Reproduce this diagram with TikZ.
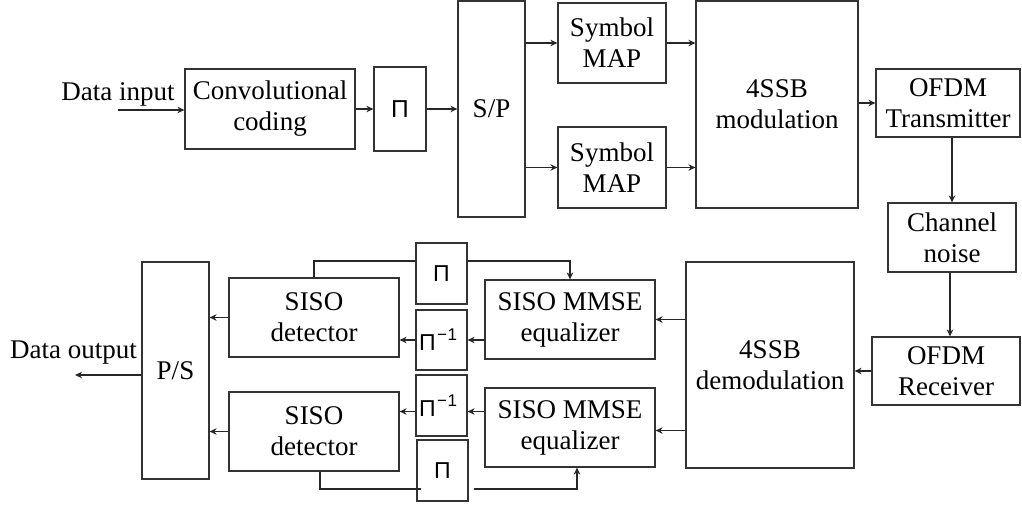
\documentclass[tikz,border=0pt]{standalone}
\usepackage{fontspec}
\setmainfont{Liberation Serif}
\newfontfamily\pifont{Liberation Sans}
\usetikzlibrary{arrows.meta}
\newcommand{\perm}{{\pifont Π}}
\newcommand{\invperm}{{\pifont Π\kern1.5pt\raisebox{10pt}{\fontsize{17}{17}\selectfont −\kern0.5pt1}}}
\begin{document}
\begin{tikzpicture}[x=1pt,y=-1pt,
  blk/.style={draw=black!80, line width=1.2pt, inner sep=0pt, align=center,
              font=\fontsize{27}{31}\selectfont},
  pbox/.style={draw=black!80, line width=1.2pt, inner sep=0pt,
               minimum width=51pt, minimum height=61pt, font=\fontsize{23}{23}\selectfont},
  ibox/.style={pbox, text width=45pt, align=left},
  lbl/.style={font=\fontsize{27}{31}\selectfont, inner sep=0pt},
  arr/.style={draw=black!85, line width=1.2pt, -{Stealth[length=7pt,width=6.5pt]}},
  ln/.style={draw=black!85, line width=1.2pt}]
\useasboundingbox (0,0) rectangle (1022,506);

% transmitter chain
\node[blk, minimum width=170pt, minimum height=80pt] (conv) at (270,109) {Convolutional\\coding};
\node[pbox, minimum width=52pt, minimum height=84pt, font=\fontsize{24.5}{24.5}\selectfont] (pi1) at (400,109) {\perm};
\node[blk, minimum width=67pt, minimum height=216pt] (sp) at (491.5,109) {S/P};
\node[blk, minimum width=108pt, minimum height=80pt] (map1) at (612,43) {Symbol\\MAP};
\node[blk, minimum width=108pt, minimum height=81pt] (map2) at (612,167.5) {Symbol\\MAP};
\node[blk, minimum width=162pt, minimum height=207pt] (mod) at (777,104.5) {4SSB\\modulation};
\node[blk, minimum width=144pt, minimum height=68pt] (tx) at (948,103) {OFDM\\Transmitter};
\node[blk, minimum width=128pt, minimum height=69pt] (noise) at (952,237.5) {Channel\\noise};

% receiver chain
\node[blk, minimum width=148pt, minimum height=68pt] (rx) at (946,371) {OFDM\\Receiver};
\node[blk, minimum width=168pt, minimum height=206pt] (demod) at (770,365) {4SSB\\demodulation};
\node[blk, minimum width=170pt, minimum height=79pt] (eq1) at (570,319.5) {SISO MMSE\\equalizer};
\node[blk, minimum width=170pt, minimum height=79pt] (eq2) at (570,427.5) {SISO MMSE\\equalizer};
\node[pbox] (pia) at (441.5,273.5) {\perm};
\node[ibox, minimum height=60pt] (pib) at (441.5,340) {\invperm};
\node[ibox] (pic) at (441.5,405.5) {\invperm};
\node[pbox] (pid) at (442.5,470.5) {\perm};
\node[blk, minimum width=170pt, minimum height=79pt] (det1) at (314,317.5) {SISO\\detector};
\node[blk, minimum width=170pt, minimum height=79pt] (det2) at (314,431.5) {SISO\\detector};
\node[blk, minimum width=67pt, minimum height=217pt] (ps) at (175.5,370.5) {P/S};

% outer labels
\node[lbl, anchor=base] (inlbl) at (118,100) {Data input};
\node[lbl, anchor=base] (outlbl) at (73.5,358) {Data output};
\coordinate (din) at (118,110);
\coordinate (dout) at (75,375);
\coordinate (fbt) at (441.5,261);
\coordinate (fbb) at (442,489);

% forward connectors
\draw[arr] (din) -- (conv.west |- din);
\draw[arr] (conv.east) -- (pi1.west);
\draw[arr] (pi1.east) -- (sp.west |- pi1.east);
\draw[arr] (sp.east |- map1.west) -- (map1.west);
\draw[arr] (sp.east |- map2.west) -- (map2.west);
\draw[arr] (map1.east) -- (mod.west |- map1.east);
\draw[arr] (map2.east) -- (mod.west |- map2.east);
\draw[arr] (mod.east |- tx.west) -- (tx.west);
\draw[arr] (noise.north |- tx.south) -- (noise.north);
\draw[arr] ([xshift=-2pt]noise.south) -- ([xshift=-2pt]noise.south |- rx.north);
\draw[arr] (rx.west) -- (demod.east |- rx.west);
\draw[arr] (demod.west |- eq1.east) -- (eq1.east);
\draw[arr] ([yshift=-3pt]demod.west |- eq2.east) -- ([yshift=-3pt]eq2.east);
\draw[arr] (eq1.west |- pib.east) -- (pib.east);
\draw[arr] (pib.west) -- (det1.east |- pib.west);
\draw[arr] ([yshift=-6pt]eq2.west |- pic.east) -- ([yshift=-6pt]pic.east);
\draw[arr] ([yshift=-6pt]pic.west) -- ([yshift=-6pt]det2.east |- pic.west);
\draw[arr] (det1.west) -- (ps.east |- det1.west);
\draw[arr] (det2.west) -- (ps.east |- det2.west);
\draw[arr] (ps.west |- dout) -- (dout);

% feedback through the interleavers
\draw[ln] (det1.north) |- (pia.west |- fbt);
\draw[arr] (pia.east |- fbt) -| (eq1.north);
\draw[ln] ([xshift=6pt]det2.south) |- ([xshift=5pt]pid.west |- fbb);
\draw[arr] ([xshift=5pt]pid.east |- fbb) -| ([xshift=7pt]eq2.south);
\end{tikzpicture}
\end{document}
